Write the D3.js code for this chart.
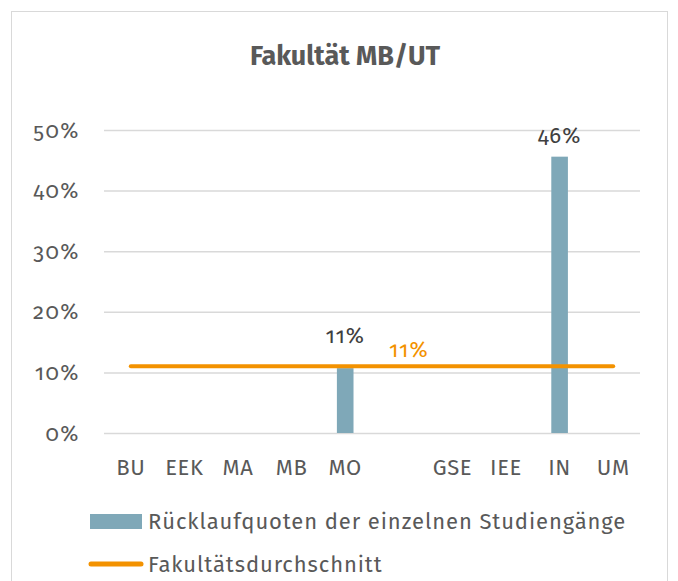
<!DOCTYPE html>
<html lang="de">
<head>
    <meta charset="UTF-8">
    <title>Fakultät MB/UT</title>
    <script src="https://cdn.jsdelivr.net/npm/d3@7"></script>
    <style>
        body { margin: 0; background: #fff; }
        text { font-family: "Fira Sans", "Open Sans", "Noto Sans", sans-serif; }
    </style>
</head>
<body>
    <script>
        // data
        var categories = ["BU", "EEK", "MA", "MB", "MO", "", "GSE", "IEE", "IN", "UM"];
        var quoten = [null, null, null, null, 0.107, null, null, null, 0.456, null];
        var quotenLabels = ["", "", "", "", "11%", "", "", "", "46%", ""];
        var durchschnitt = 0.11;
        var durchschnittLabel = "11%";
        var yTicks = [0, 0.1, 0.2, 0.3, 0.4, 0.5];
        var seriesNames = ["Rücklaufquoten der einzelnen Studiengänge", "Fakultätsdurchschnitt"];

        var w = 678, h = 581;
        var margin = {top: 130, left: 104, right: 38, bottom: 148};
        var x0 = margin.left, x1 = w - margin.right;
        var y0 = h - margin.bottom, y1 = margin.top;
        var textCol = "#595959";

        var svg = d3.select("body").append("svg")
            .attr("width", w)
            .attr("height", h);

        // outer frame
        svg.append("rect")
            .attr("x", 11.5).attr("y", 11.5)
            .attr("width", 656).attr("height", 580)
            .attr("fill", "#fff")
            .attr("stroke", "#d9d9d9");

        svg.append("text")
            .attr("x", 345).attr("y", 65)
            .attr("text-anchor", "middle")
            .attr("font-size", 27)
            .attr("font-weight", "bold")
            .attr("fill", textCol)
            .text("Fakultät MB/UT");

        var xScale = d3.scaleBand()
            .domain(d3.range(categories.length))
            .range([x0, x1])
            .paddingInner(0.69)
            .paddingOuter(0.345);

        var slot = d3.scaleBand()
            .domain(d3.range(categories.length))
            .range([x0, x1]);

        var yScale = d3.scaleLinear()
            .domain([0, 0.5])
            .range([y0, y1]);

        // gridlines + y labels
        var yAxis = d3.axisLeft(yScale)
            .tickValues(yTicks)
            .tickSize(-(x1 - x0))
            .tickPadding(24)
            .tickFormat(d3.format(".0%"));

        var gy = svg.append("g")
            .attr("transform", "translate(" + x0 + ",0)")
            .call(yAxis);
        gy.select(".domain").remove();
        gy.selectAll(".tick line").attr("stroke", "#d9d9d9").attr("stroke-width", 1.5);
        gy.selectAll(".tick text")
            .attr("font-size", 22)
            .attr("letter-spacing", 1.5)
            .attr("fill", textCol)
            .style("font-family", "\"Fira Sans\", \"Open Sans\", sans-serif")
            .style("font-variant-numeric", "oldstyle-nums");

        // x labels
        var xAxis = d3.axisBottom(slot)
            .tickSize(0)
            .tickPadding(26)
            .tickFormat(function(i) { return categories[i]; });
        var gx = svg.append("g")
            .attr("transform", "translate(0," + y0 + ")")
            .call(xAxis);
        gx.select(".domain").remove();
        gx.selectAll(".tick text")
            .attr("font-size", 22)
            .attr("letter-spacing", 0.6)
            .attr("fill", textCol)
            .style("font-family", "\"Fira Sans\", \"Open Sans\", sans-serif");

        var barData = quoten.map(function(v, i) { return {i: i, v: v, label: quotenLabels[i]}; })
            .filter(function(d) { return d.v != null; });

        svg.append("g").selectAll("rect")
            .data(barData)
            .enter()
            .append("rect")
            .attr("x", function(d) { return xScale(d.i); })
            .attr("y", function(d) { return yScale(d.v); })
            .attr("width", xScale.bandwidth())
            .attr("height", function(d) { return y0 - yScale(d.v); })
            .attr("fill", "#7fa8b8");

        // average line
        var line = d3.line()
            .x(function(d) { return slot(d) + slot.bandwidth() / 2; })
            .y(function() { return yScale(durchschnitt); });
        svg.append("path")
            .datum(d3.range(categories.length))
            .attr("d", line)
            .attr("fill", "none")
            .attr("stroke", "#f39200")
            .attr("stroke-width", 4)
            .attr("stroke-linecap", "round");

        // bar labels (pushed above the average line when they would touch it)
        var avgY = yScale(durchschnitt);
        svg.append("g").selectAll("text")
            .data(barData)
            .enter()
            .append("text")
            .attr("x", function(d) { return xScale(d.i) + xScale.bandwidth() / 2; })
            .attr("y", function(d) {
                var y = yScale(d.v) - 14;
                return Math.abs(yScale(d.v) - avgY) < 20 ? avgY - 23 : y;
            })
            .attr("text-anchor", "middle")
            .attr("font-size", 22)
            .attr("letter-spacing", 1)
            .attr("fill", "#404040")
            .style("font-variant-numeric", "oldstyle-nums")
            .text(function(d) { return d.label; });

        svg.append("text")
            .attr("x", slot(5) + slot.bandwidth() / 2 + 10)
            .attr("y", avgY - 9)
            .attr("text-anchor", "middle")
            .attr("font-size", 22)
            .attr("letter-spacing", 1)
            .attr("fill", "#f39200")
            .style("font-variant-numeric", "oldstyle-nums")
            .text(durchschnittLabel);

        // legend
        var lg = svg.append("g");
        lg.append("rect")
            .attr("x", 90).attr("y", 514)
            .attr("width", 52).attr("height", 15)
            .attr("fill", "#7fa8b8");
        lg.append("text")
            .attr("x", 148).attr("y", 529)
            .attr("font-size", 22)
            .attr("letter-spacing", 0.9)
            .attr("fill", textCol)
            .text(seriesNames[0]);
        lg.append("line")
            .attr("x1", 91).attr("x2", 141)
            .attr("y1", 564).attr("y2", 564)
            .attr("stroke", "#f39200")
            .attr("stroke-width", 5)
            .attr("stroke-linecap", "round");
        lg.append("text")
            .attr("x", 148).attr("y", 572)
            .attr("font-size", 22)
            .attr("letter-spacing", 0.9)
            .attr("fill", textCol)
            .text(seriesNames[1]);
    </script>
</body>
</html>
